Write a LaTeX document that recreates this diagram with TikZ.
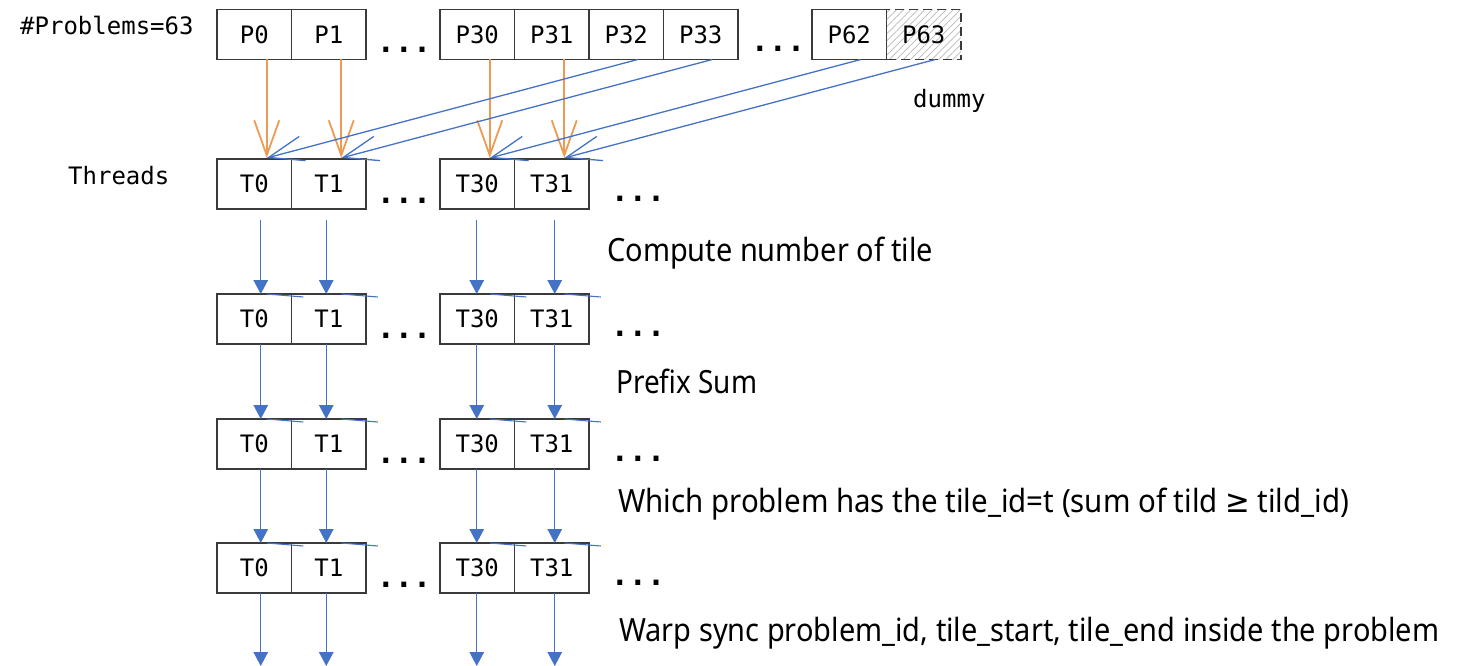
\documentclass[tikz,border=0pt]{standalone}
\usepackage{fontspec}
\setmainfont{Noto Sans}
\newfontfamily\codefont{DejaVu Sans Mono}
\newfontfamily\symfont{DejaVu Sans}
\usetikzlibrary{arrows.meta,patterns.meta}

\definecolor{lineblue}{HTML}{4472C4}
\definecolor{lineorange}{HTML}{EE9A52}
\definecolor{boxgray}{HTML}{3A3A3A}

% text squeezed to a given width, height kept
\newcommand{\fitto}[2]{\resizebox{#1}{\height}{#2}}

\tikzset{
  cell/.style={draw=boxgray, line width=1.1pt, minimum width=74.5pt,
    minimum height=50pt, inner sep=0pt, outer sep=0pt, anchor=north west,
    font=\codefont\fontsize{24}{24}\selectfont},
  dummycell/.style={cell, dash pattern=on 9pt off 5pt, line width=1.7pt,
    pattern={Lines[angle=45,distance=5pt,line width=0.7pt]},
    pattern color=gray!55},
  ellip/.style={font=\codefont\bfseries\fontsize{30}{30}\selectfont,
    inner sep=0pt, anchor=base},
  tag/.style={font=\codefont\fontsize{24}{24}\selectfont, inner sep=0pt,
    anchor=base west},
  steptext/.style={inner sep=0pt, anchor=base west,
    font=\fontsize{32}{32}\selectfont},
  flow/.style={draw=lineblue, line width=1.4pt,
    -{Triangle[width=14.5pt,length=14pt]}},
  map/.style={line width=1.5pt, -{Straight Barb[length=35pt,width=25pt]}},
  residue/.style={draw=lineblue, line width=1.1pt},
}

\begin{document}
\begin{tikzpicture}[x=1pt, y=-1pt]
\useasboundingbox (0,0) rectangle (1457,666);

% problems
\node[tag] (nprob) at (20,34.5) {\#Problems=63};
\node[cell] (P0)  at (217,9.5) {P0};
\node[cell] (P1)  at (291.5,9.5) {P1};
\node[ellip] (pd1) at (404,53) {...};
\node[cell] (P30) at (440,9.5) {P30};
\node[cell] (P31) at (514.5,9.5) {P31};
\node[cell] (P32) at (589,9.5) {P32};
\node[cell] (P33) at (663.5,9.5) {P33};
\node[ellip] (pd2) at (778,52) {...};
\node[cell] (P62) at (812,9.5) {P62};
\node[dummycell, preaction={fill=white}] (P63) at (886.5,9.5) {P63};
\node[tag] (dummy) at (913,107.5) {dummy};

% thread rows
\node[tag] (threads) at (68,184.5) {Threads};
\foreach \r/\y in {a/159,b/294,c/419,d/543} {
  \node[cell] (T0\r)  at (217,\y) {T0};
  \node[cell] (T1\r)  at (291.5,\y) {T1};
  \node[ellip] (dl\r) at (404,\y+44.5) {...};
  \node[cell] (T30\r) at (440,\y) {T30};
  \node[cell] (T31\r) at (514.5,\y) {T31};
  \node[ellip] (dr\r) at (638,\y+42.5) {...};
}

% steps
\node[steptext] (s1) at (607,261) {\fitto{326pt}{Compute number of tile}};
\node[steptext] (s2) at (616,393.5) {\fitto{141pt}{Prefix Sum}};
\node[steptext] (s3) at (618,512) {\fitto{731pt}{Which problem has the tile\_id=t (sum of tild {\symfont ≥} tild\_id)}};
\node[steptext] (s4) at (619,641.5) {\fitto{820pt}{Warp sync problem\_id, tile\_start, tile\_end inside the problem}};

% problem -> thread mapping
\foreach \p/\t in {P0/T0a, P1/T1a, P30/T30a, P31/T31a}
  \draw[map, draw=lineorange, line width=1.8pt] ([xshift=12.5pt]\p.south) -- ([xshift=12.5pt,yshift=1pt]\t.north);
\foreach \p/\t in {P32/T0a, P33/T1a, P62/T30a, P63/T31a}
  \draw[map, draw=lineblue, line width=1.3pt] ([xshift=11.5pt]\p.south) -- ([xshift=12.5pt,yshift=1pt]\t.north);

% leftover barb strokes on later rows
\foreach \r in {b,c,d}
  \foreach \t in {T0,T1,T30,T31}
    \draw[residue] ([xshift=12.5pt]\t\r.north) -- ([xshift=49pt,yshift=-3pt]\t\r.north);

% per-step flow
\foreach \t/\s in {T0/6.5, T1/-2.5, T30/-0.5, T31/3} {
  \draw[flow] ([xshift=\s pt,yshift=-11pt]\t a.south) -- ([xshift=\s pt]\t b.north);
  \draw[flow] ([xshift=\s pt]\t b.south) -- ([xshift=\s pt]\t c.north);
  \draw[flow] ([xshift=\s pt]\t c.south) -- ([xshift=\s pt]\t d.north);
  \path ([xshift=\s pt]\t d.south) ++(0,73) coordinate (end\t);
  \draw[flow] ([xshift=\s pt]\t d.south) -- (end\t);
}
\end{tikzpicture}
\end{document}
